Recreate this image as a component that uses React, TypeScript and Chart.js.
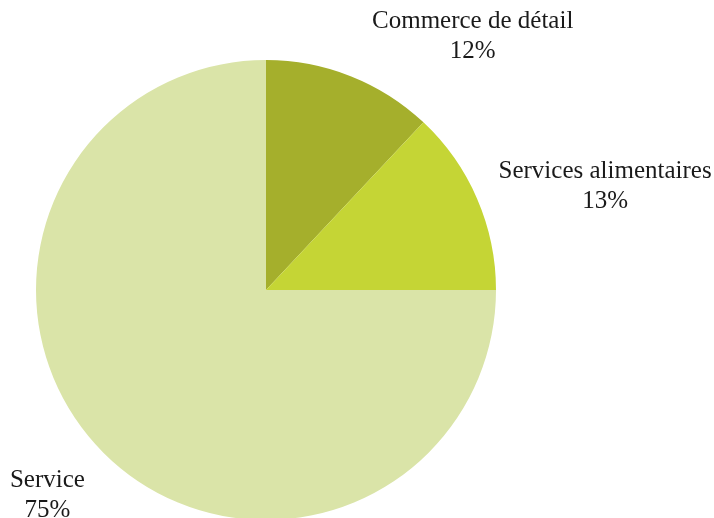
import React, { useEffect, useRef } from "react";
import { Chart, registerables } from "chart.js";

Chart.register(...registerables);

const categories: string[] = ["Commerce de détail", "Services alimentaires", "Service"];
const shares: number[] = [12, 13, 75];
const sliceColors: string[] = ["#A5AF2C", "#C5D535", "#DAE4A8"];
const labelOffsets: [number, number][] = [
  [122, -48],
  [128, -21],
  [-56, 34],
];

const labelPlugin = {
  id: "outerLabels",
  afterDatasetsDraw(chart: any) {
    const ctx = chart.ctx;
    const meta = chart.getDatasetMeta(0);
    const data = chart.data.datasets[0].data as number[];
    const total = data.reduce((a, b) => a + b, 0);
    ctx.save();
    ctx.font = "25px 'Liberation Serif', 'Times New Roman', serif";
    ctx.fillStyle = "#1a1a1a";
    ctx.textAlign = "center";
    ctx.textBaseline = "alphabetic";
    meta.data.forEach((arc: any, i: number) => {
      const p = arc.getProps(["x", "y", "startAngle", "endAngle", "outerRadius"], true);
      const mid = (p.startAngle + p.endAngle) / 2;
      const ax = p.x + Math.cos(mid) * p.outerRadius;
      const ay = p.y + Math.sin(mid) * p.outerRadius;
      const [dx, dy] = labelOffsets[i];
      const lx = ax + dx;
      const ly = ay + dy;
      const pct = Math.round((data[i] / total) * 100) + "%";
      ctx.fillText(String(chart.data.labels[i]), lx, ly);
      ctx.fillText(pct, lx, ly + 30);
    });
    ctx.restore();
  },
};

export default function App() {
  const ref = useRef<HTMLCanvasElement | null>(null);
  useEffect(() => {
    if (!ref.current) return;
    const chart = new Chart(ref.current, {
      type: "pie",
      data: {
        labels: categories,
        datasets: [
          {
            data: shares,
            backgroundColor: sliceColors,
            borderWidth: 0,
          },
        ],
      },
      options: {
        responsive: false,
        animation: false,
        layout: { padding: { left: 36, top: 60, right: 218, bottom: 10 } },
        plugins: {
          legend: { display: false },
          tooltip: { enabled: false },
        },
      },
      plugins: [labelPlugin],
    });
    return () => chart.destroy();
  }, []);
  return (
    <div
      style={{
        position: "fixed",
        left: 0,
        top: 0,
        width: 714,
        height: 518,
        overflow: "hidden",
        background: "#ffffff",
      }}
    >
      <canvas ref={ref} width={714} height={530} style={{ display: "block", width: 714, height: 530 }} />
    </div>
  );
}
